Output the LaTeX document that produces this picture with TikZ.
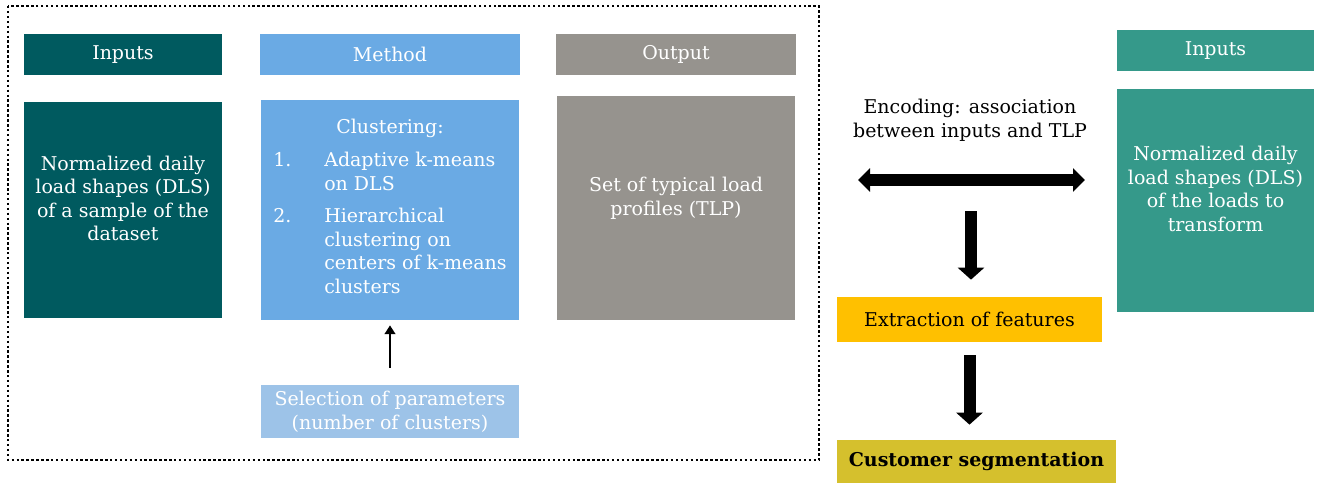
\documentclass[tikz,border=0pt]{standalone}
\usepackage{fontspec}
\setmainfont{DejaVu Serif}
\usetikzlibrary{arrows.meta}

\definecolor{inpcol}{RGB}{0,90,95}
\definecolor{metcol}{RGB}{106,170,228}
\definecolor{selcol}{RGB}{157,195,232}
\definecolor{outcol}{RGB}{150,147,142}
\definecolor{trfcol}{RGB}{53,153,138}
\definecolor{extcol}{RGB}{255,192,0}
\definecolor{segcol}{RGB}{213,192,45}

\begin{document}
\begin{tikzpicture}
[
    txt/.style={font=\fontsize{10.8}{13.4}\selectfont, align=center},
    hd/.style={txt, text=white, inner sep=0pt, minimum height=0.82cm},   % hd = header box
    bx/.style={txt, text=white, inner sep=0pt},                          % bx = body box
    fb/.style={txt, inner sep=0pt},                                      % fb = flow box
    thin/.style={line width=1.6pt, -{Triangle[length=5pt,width=6pt]}},
    fat/.style={line width=0.24cm, -{Triangle[length=0.24cm,width=0.52cm]}},
]
\useasboundingbox (0,0) rectangle (26.34,-9.66);

% dotted frame round the typical load profile part
\draw[line width=1.2pt, dash pattern=on 1.4pt off 1.4pt] (0.16,-0.12) rectangle (16.38,-9.2);

\node[hd, fill=inpcol, minimum width=3.96cm] (inhd) at (2.46,-1.09) {Inputs};
\node[bx, fill=inpcol, minimum width=3.96cm, minimum height=4.32cm] (inbx) at (2.46,-4.2)
    {Normalized daily\\load shapes (DLS)\\of a sample of the\\dataset\\\mbox{}};

\node[hd, fill=metcol, minimum width=5.2cm] (methd) at (7.8,-1.09) {Method};
\node[bx, fill=metcol, minimum width=5.16cm, minimum height=4.4cm] (metbx) at (7.8,-4.2)
    {Clustering:\\[6pt]
     \begin{tabular}{@{}p{1.02cm}@{}l@{}}
     1. & Adaptive k-means\\
        & on DLS\\[5pt]
     2. & Hierarchical\\
        & clustering on\\
        & centers of k-means\\
        & clusters
     \end{tabular}};
\node[bx, fill=selcol, minimum width=5.16cm, minimum height=1.06cm] (sel) at (7.8,-8.23)
    {Selection of parameters\\(number of clusters)};

\node[hd, fill=outcol, minimum width=4.8cm] (outhd) at (13.52,-1.09) {Output};
\node[bx, fill=outcol, minimum width=4.76cm, minimum height=4.48cm] (outbx) at (13.52,-4.16)
    {Set of typical load\\profiles (TLP)\\\mbox{}};

\node[fb] (enc) at (19.4,-2.4) {Encoding: association\\between inputs and TLP};
\coordinate (encl) at (17.16,-3.6);
\coordinate (encr) at (21.7,-3.6);
\coordinate (encm) at (19.42,-3.6);

\node[fb, fill=extcol, minimum width=5.3cm, minimum height=0.9cm] (ext) at (19.39,-6.39)
    {Extraction of features};
\node[fb, fill=segcol, minimum width=5.58cm, minimum height=0.86cm, font=\fontsize{10.8}{13.4}\selectfont\bfseries] (seg) at (19.53,-9.23)
    {Customer segmentation};

\node[hd, fill=trfcol, minimum width=3.94cm] (trfhd) at (24.31,-1.01) {Inputs};
\node[bx, fill=trfcol, minimum width=3.94cm, minimum height=4.46cm] (trfbx) at (24.31,-4.01)
    {Normalized daily\\load shapes (DLS)\\of the loads to\\transform\\\mbox{}};

% arrows
\draw[thin, shorten <=0.34cm, shorten >=0.1cm] (sel.north) -- (metbx.south);
\draw[fat, {Triangle[length=0.24cm,width=0.46cm]}-{Triangle[length=0.24cm,width=0.46cm]}] (encl) -- (encr);
\draw[fat, shorten <=0.62cm, shorten >=0.34cm] (encm) -- (encm |- ext.north);
\draw[fat, shorten <=0.26cm, shorten >=0.3cm] (ext.south) -- (ext.south |- seg.north);
\end{tikzpicture}
\end{document}
